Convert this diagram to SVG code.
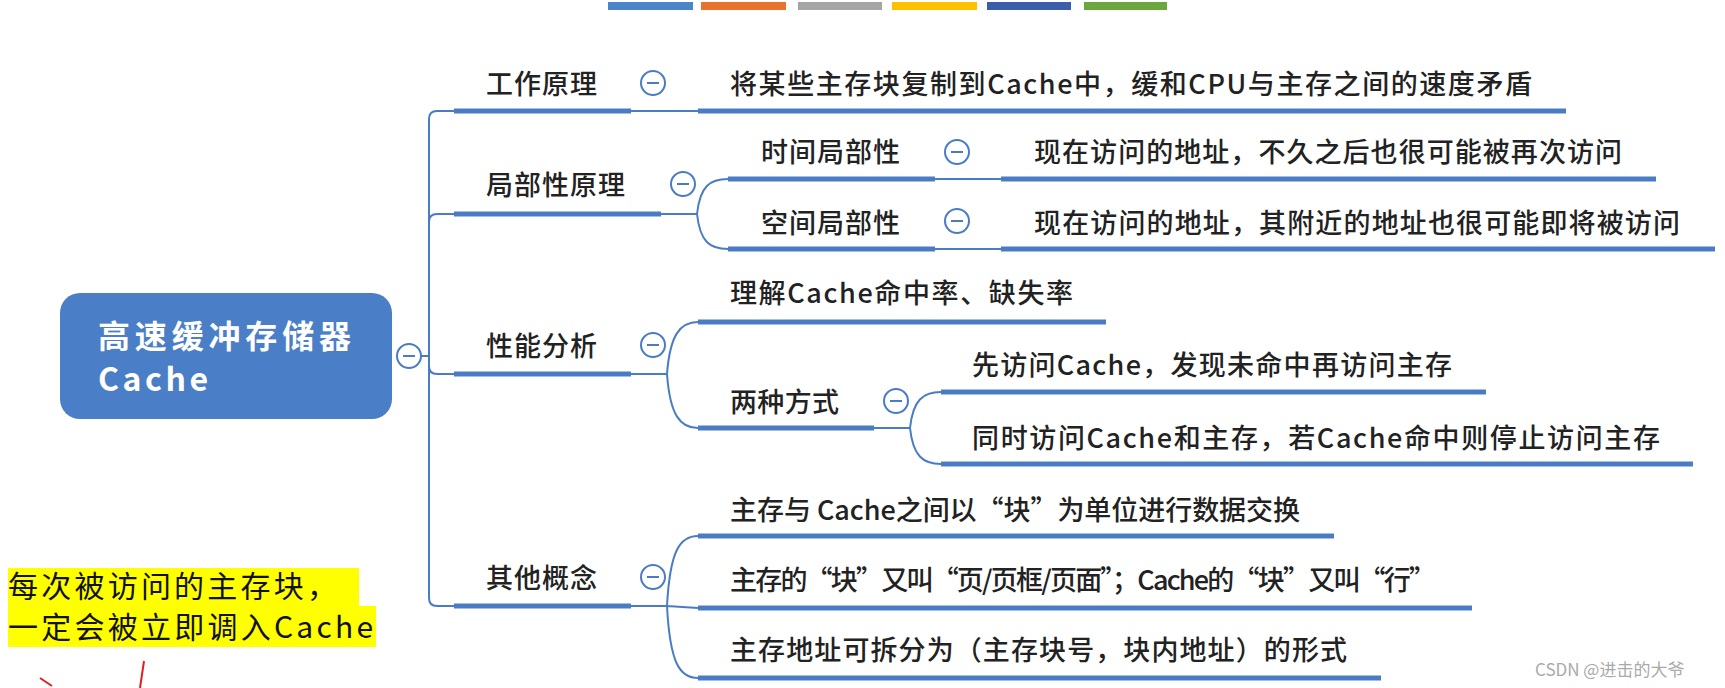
<svg xmlns="http://www.w3.org/2000/svg" width="1725" height="688" viewBox="0 0 1725 688">
<style>
.t{font-family:"Noto Sans CJK SC","Liberation Sans",sans-serif;font-size:27px;font-weight:500;fill:#222;}
.r{font-family:"Noto Sans CJK SC","Liberation Sans",sans-serif;font-size:32px;font-weight:bold;fill:#fff;}
.n{font-family:"Noto Sans CJK SC","Liberation Serif",serif;font-size:30px;fill:#111;}
.u{stroke:#4a7cc4;stroke-width:5;fill:none;}
.c{stroke:#4a7cc4;stroke-width:2;fill:none;}
.k{fill:#fff;stroke:#4a7cc4;stroke-width:2;}
.m{stroke:#4a7cc4;stroke-width:2;}
</style>
<rect width="1725" height="688" fill="#fff"/>
<g id="bars">
<rect x="608" y="2" width="85" height="8" fill="#4a85c8"/>
<rect x="701" y="2" width="85" height="8" fill="#e8742c"/>
<rect x="798" y="2" width="84" height="8" fill="#a5a5a5"/>
<rect x="892" y="2" width="85" height="8" fill="#ffc000"/>
<rect x="987" y="2" width="84" height="8" fill="#3a5ea8"/>
<rect x="1084" y="2" width="83" height="8" fill="#6aa83e"/>
</g>
<g id="connectors">
<path class="c" d="M421 356 H429 M454 111 H437 Q429 111 429 119 V598 Q429 606 437 606 H454 M454 214 H437 Q429 214 429 222 M454 374 H437 Q429 374 429 366"/>
<path class="c" d="M631 111 H698"/>
<path class="c" d="M661 214 H697 M697 214 C700 186 710 179 728 179 M697 214 C700 242 710 249 728 249"/>
<path class="c" d="M935 179 H1001 M935 249 H1001"/>
<path class="c" d="M631 374 H667 M667 374 C670 335 680 322 698 322 M667 374 C670 415 680 428 698 428"/>
<path class="c" d="M874 428 H910 M910 428 C913 400 923 392 941 392 M910 428 C913 456 923 464 941 464"/>
<path class="c" d="M631 606 H667 M667 606 C670 550 680 536 698 536 M667 606 L698 608 M667 606 C670 664 680 678 698 678"/>
</g>
<g id="root">
<rect x="60" y="293" width="332" height="126" rx="20" fill="#4a7ec7"/>
<text class="r" x="98" y="348" textLength="253">高速缓冲存储器</text>
<text class="r" x="98" y="391" textLength="110">Cache</text>
<circle class="k" cx="409" cy="356" r="12"/><line class="m" x1="403" y1="356" x2="415" y2="356"/>
</g>
<g id="n1">
<text class="t" x="486" y="94" textLength="111">工作原理</text>
<line class="u" x1="454" y1="111" x2="631" y2="111"/>
<circle class="k" cx="653" cy="83" r="12"/><line class="m" x1="647" y1="83" x2="659" y2="83"/>
</g>
<g id="n1a">
<text class="t" x="730" y="94" textLength="802">将某些主存块复制到Cache中，缓和CPU与主存之间的速度矛盾</text>
<line class="u" x1="698" y1="111" x2="1566" y2="111"/>
</g>
<g id="n2">
<text class="t" x="486" y="195" textLength="139">局部性原理</text>
<line class="u" x1="454" y1="214" x2="661" y2="214"/>
<circle class="k" cx="683" cy="184" r="12"/><line class="m" x1="677" y1="184" x2="689" y2="184"/>
</g>
<g id="n2a">
<text class="t" x="761" y="162" textLength="139">时间局部性</text>
<line class="u" x1="728" y1="179" x2="935" y2="179"/>
<circle class="k" cx="957" cy="152" r="12"/><line class="m" x1="951" y1="152" x2="963" y2="152"/>
</g>
<g id="n2a1">
<text class="t" x="1034" y="162" textLength="588">现在访问的地址，不久之后也很可能被再次访问</text>
<line class="u" x1="1001" y1="179" x2="1656" y2="179"/>
</g>
<g id="n2b">
<text class="t" x="761" y="233" textLength="139">空间局部性</text>
<line class="u" x1="728" y1="249" x2="935" y2="249"/>
<circle class="k" cx="957" cy="221" r="12"/><line class="m" x1="951" y1="221" x2="963" y2="221"/>
</g>
<g id="n2b1">
<text class="t" x="1034" y="233" textLength="646">现在访问的地址，其附近的地址也很可能即将被访问</text>
<line class="u" x1="1001" y1="249" x2="1715" y2="249"/>
</g>
<g id="n3">
<text class="t" x="486" y="356" textLength="111">性能分析</text>
<line class="u" x1="454" y1="374" x2="631" y2="374"/>
<circle class="k" cx="653" cy="345" r="12"/><line class="m" x1="647" y1="345" x2="659" y2="345"/>
</g>
<g id="n3a">
<text class="t" x="730" y="303" textLength="343">理解Cache命中率、缺失率</text>
<line class="u" x1="698" y1="322" x2="1106" y2="322"/>
</g>
<g id="n3b">
<text class="t" x="730" y="412" textLength="109">两种方式</text>
<line class="u" x1="698" y1="428" x2="874" y2="428"/>
<circle class="k" cx="896" cy="401" r="12"/><line class="m" x1="890" y1="401" x2="902" y2="401"/>
</g>
<g id="n3b1">
<text class="t" x="972" y="375" textLength="480">先访问Cache，发现未命中再访问主存</text>
<line class="u" x1="941" y1="392" x2="1486" y2="392"/>
</g>
<g id="n3b2">
<text class="t" x="972" y="448" textLength="688">同时访问Cache和主存，若Cache命中则停止访问主存</text>
<line class="u" x1="941" y1="464" x2="1693" y2="464"/>
</g>
<g id="n4">
<text class="t" x="486" y="588" textLength="111">其他概念</text>
<line class="u" x1="454" y1="606" x2="631" y2="606"/>
<circle class="k" cx="653" cy="577" r="12"/><line class="m" x1="647" y1="577" x2="659" y2="577"/>
</g>
<g id="n4a">
<text class="t" x="730" y="520" textLength="570">主存与 Cache之间以“块”为单位进行数据交换</text>
<line class="u" x1="698" y1="536" x2="1334" y2="536"/>
</g>
<g id="n4b">
<text class="t" x="730" y="590" textLength="706">主存的“块”又叫“页/页框/页面”；Cache的“块”又叫“行”</text>
<line class="u" x1="698" y1="608" x2="1472" y2="608"/>
</g>
<g id="n4c">
<text class="t" x="730" y="660" textLength="617">主存地址可拆分为（主存块号，块内地址）的形式</text>
<line class="u" x1="698" y1="678" x2="1381" y2="678"/>
</g>
<g id="note">
<rect x="8" y="568" width="351" height="40" fill="#ffff00"/>
<rect x="8" y="606" width="368" height="41" fill="#ffff00"/>
<text class="n" x="8" y="597" textLength="329">每次被访问的主存块，</text>
<text class="n" x="8" y="638" textLength="365">一定会被立即调入Cache</text>
<path d="M144 661 L140 688 M40 678 L52 686" stroke="#e02020" stroke-width="2" fill="none"/>
</g>
<text x="1535" y="676" font-family="Noto Sans CJK SC, Liberation Sans, sans-serif" font-size="17" fill="#aaa">CSDN @进击的大爷</text>
</svg>
